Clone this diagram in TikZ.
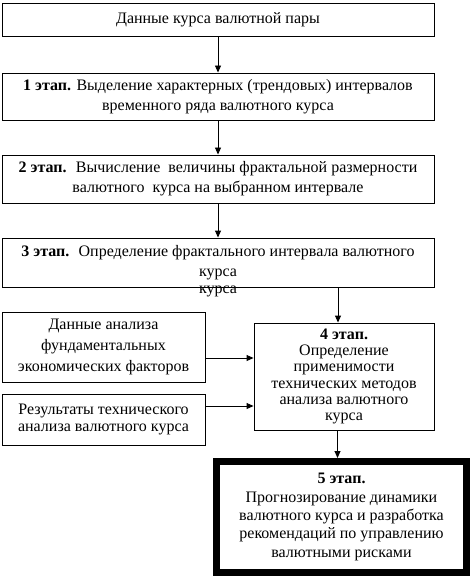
\documentclass[tikz,border=0pt]{standalone}
\usepackage{fontspec}
\setmainfont{Liberation Serif}
\usetikzlibrary{arrows.meta}
\begin{document}
\begin{tikzpicture}[x=1pt,y=-1pt,
  box/.style={draw,line width=0.9pt,align=center,inner sep=0pt,font=\fontsize{16}{20}\selectfont},
  arr/.style={line width=0.9pt,-{Triangle[length=7pt,width=6pt]}}]
\useasboundingbox (0,0) rectangle (473,577);
\node[box,minimum width=432,minimum height=33] (b0) at (218,19.5) {Данные курса валютной пары};
\node[box,minimum width=432,minimum height=47] (b1) at (218,96.5) {\textbf{1 этап.} Выделение характерных (трендовых) интервалов\\временного ряда валютного курса};
\node[box,minimum width=432,minimum height=48] (b2) at (218,179) {\textbf{2 этап.} \ Вычисление \ величины фрактальной размерности\\валютного \ курса на выбранном интервале};
\node[box,minimum width=432,minimum height=49] (b3) at (218,262.5) {\textbf{3 этап.} \ Определение фрактального интервала валютного\\курса};
\node[font=\fontsize{16}{20}\selectfont,inner sep=0pt] (k3) at (218,291) {курса};
\node[box,minimum width=180,minimum height=107,font=\fontsize{16}{16.3}\selectfont] (b4) at (344,376.5) {\textbf{4 этап.}\\Определение\\применимости\\технических методов\\анализа валютного\\курса};
\node[box,minimum width=203,minimum height=70,font=\fontsize{16}{21}\selectfont] (bA) at (103.5,347) {Данные анализа\\фундаментальных\\экономических факторов};
\node[box,minimum width=203,minimum height=51,font=\fontsize{16}{17.5}\selectfont] (bB) at (103.5,419.5) {Результаты технического\\анализа валютного курса};
\node[box,line width=7pt,minimum width=250,minimum height=111,font=\fontsize{16}{18.3}\selectfont] (b5) at (341.5,517) {\textbf{5 этап.}\\Прогнозирование динамики\\валютного курса и разработка\\рекомендаций по управлению\\валютными рисками};
\coordinate (c4) at ([xshift=-6pt]b4.north);
\coordinate (c5) at ([xshift=-4pt]b5.north);
\draw[arr] (b0) -- (b1);
\draw[arr] (b1) -- (b2);
\draw[arr] (b2) -- (b3);
\draw[arr] (b3.south -| c4) -- (c4);
\draw[arr] (bA.east |- 0,358) -- (b4.west |- 0,358);
\draw[arr] (bB.east |- 0,406) -- (b4.west |- 0,406);
\draw[arr] (b4.south -| c5) -- (c5);
\end{tikzpicture}
\end{document}
